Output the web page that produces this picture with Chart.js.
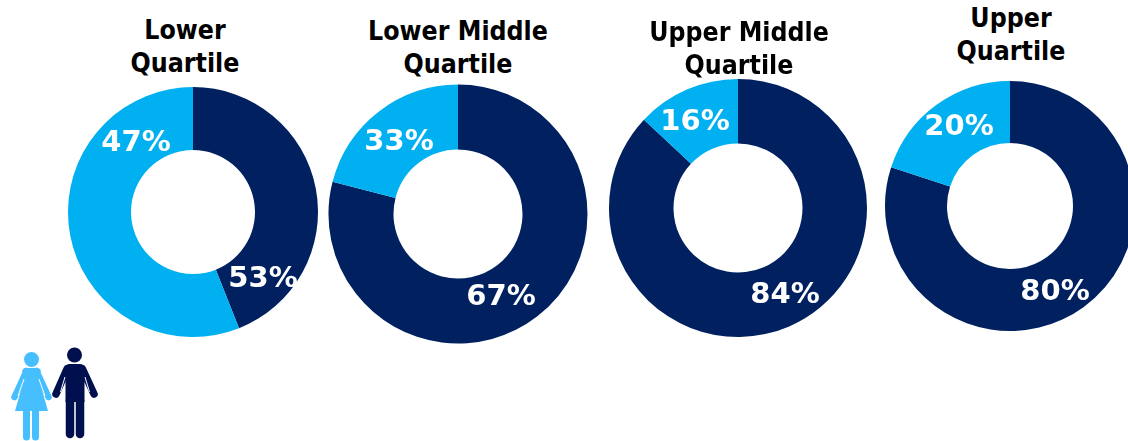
<!DOCTYPE html>
<html><head><meta charset="utf-8">
<script src="https://cdn.jsdelivr.net/npm/chart.js@4"></script>
<style>
html,body{margin:0;padding:0;background:#fff;width:1128px;height:441px;overflow:hidden}
#stage{position:relative;width:1128px;height:441px;overflow:hidden}
canvas{position:absolute}
.t{position:absolute;font:bold 26px "DejaVu Sans",sans-serif;color:#000;text-align:center;line-height:33px;white-space:nowrap;transform:translateX(-50%) scaleX(0.915)}
svg{position:absolute;left:0;top:340px}
</style></head><body><div id="stage">
<svg width="110" height="101" viewBox="0 0 110 101">
<g fill="#47BFFF" stroke="none">
<circle cx="31.500" cy="19.500" r="7.500"/>
<path d="M26 28h11q3 0 4 3l-3 5 10 35h-33l10-35-3-5q1-3 4-3z"/>
<path d="M26.500 31 14.500 57M36.500 31 48.500 57" stroke="#47BFFF" stroke-width="6.500" stroke-linecap="round"/>
<path d="M24 39 18 56M39 39 45 56" stroke="#fff" stroke-width="1" fill="none"/>
<path d="M26.500 70v27M35.500 70v27" stroke="#47BFFF" stroke-width="7" stroke-linecap="round"/>
</g>
<g fill="#000F4D" stroke="none">
<circle cx="74.500" cy="15" r="7.500"/>
<path d="M69 24h11q4 0 4.500 4v34h-19v-34q.5-4 3.500-4z"/>
<path d="M67 29 56 54M82.500 29 94 54" stroke="#000F4D" stroke-width="7.500" stroke-linecap="round"/>
<path d="M65 37 60.500 52M85 37 89.500 52" stroke="#fff" stroke-width="1" fill="none"/>
<path d="M70 60v34M80 60v34" stroke="#000F4D" stroke-width="8.500" stroke-linecap="round"/>
</g>
</svg>
</div>
<script>
const categories=["Lower\nQuartile","Lower Middle\nQuartile","Upper Middle\nQuartile","Upper\nQuartile"];
const segmentNames=["Male","Female"];
const maleShareDrawn=[44,79,87,80];
const femaleShareDrawn=[56,21,13,20];
const malePrinted=["53%","67%","84%","80%"];
const femalePrinted=["47%","33%","16%","20%"];
const colors=["#002060","#00B0F0"];
const centers=[[193,212,125,62],[458,213.5,129.5,64.5],[738,208,129,64.5],[1010,206,125,63]];
const titlePos=[[185,14],[458,15],[739,16],[1011,2]];
const maleLabelAt=[[70,67],[43,83],[47,87],[45,86]];
const femaleLabelAt=[[-57,-69],[-59,-72],[-43,-86],[-51,-79]];
const labelPlugin={id:"printedLabels",afterDatasetsDraw(c,_,o){
  const ctx=c.ctx,cx=(c.chartArea.left+c.chartArea.right)/2,cy=(c.chartArea.top+c.chartArea.bottom)/2;
  ctx.save();ctx.fillStyle="#fff";ctx.font='bold 29px "DejaVu Sans",sans-serif';ctx.textAlign="center";ctx.textBaseline="middle";
  o.texts.forEach((t,i)=>ctx.fillText(t,cx+o.at[i][0],cy+o.at[i][1]));
  ctx.restore();}};
const stage=document.getElementById("stage");
categories.forEach((name,i)=>{
  const [x,y,R,r]=centers[i];
  const cv=document.createElement("canvas");
  const s=Math.ceil(R)*2+4;
  cv.style.left=(x-s/2)+"px";cv.style.top=(y-s/2)+"px";cv.style.width=s+"px";cv.style.height=s+"px";
  cv.width=s;cv.height=s;
  stage.appendChild(cv);
  new Chart(cv,{type:"doughnut",plugins:[labelPlugin],
    data:{labels:segmentNames,datasets:[{data:[maleShareDrawn[i],femaleShareDrawn[i]],backgroundColor:colors,borderWidth:0}]},
    options:{responsive:false,animation:false,radius:R,cutout:(r/R*100)+"%",
      layout:{padding:0},
      plugins:{legend:{display:false},tooltip:{enabled:false},
        printedLabels:{texts:[malePrinted[i],femalePrinted[i]],at:[maleLabelAt[i],femaleLabelAt[i]]}}}});
  const t=document.createElement("div");t.className="t";
  t.style.left=titlePos[i][0]+"px";t.style.top=titlePos[i][1]+"px";
  t.innerHTML=name.replace("\n","<br>");stage.appendChild(t);
});
</script></body></html>
